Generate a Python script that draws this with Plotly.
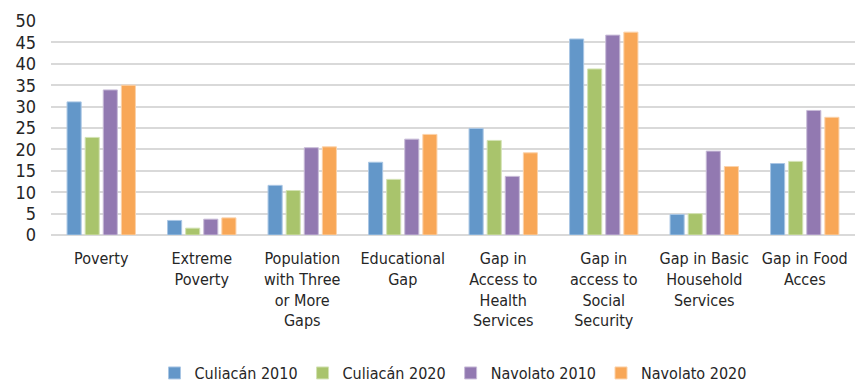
import plotly.graph_objects as go

categories = ["Poverty", "Extreme<br>Poverty", "Population<br>with Three<br>or More<br>Gaps",
              "Educational<br>Gap", "Gap in<br>Access to<br>Health<br>Services",
              "Gap in<br>access to<br>Social<br>Security", "Gap in Basic<br>Household<br>Services",
              "Gap in Food<br>Acces"]
culiacan_2010 = [31.1, 3.4, 11.6, 17.0, 24.9, 45.8, 4.8, 16.7]
culiacan_2020 = [22.8, 1.6, 10.4, 13.0, 22.1, 38.8, 5.0, 17.2]
navolato_2010 = [33.9, 3.7, 20.4, 22.4, 13.7, 46.7, 19.6, 29.1]
navolato_2020 = [35.0, 4.0, 20.6, 23.5, 19.2, 47.4, 16.0, 27.5]
series_names = ["Culiacán 2010", "Culiacán 2020", "Navolato 2010", "Navolato 2020"]
y_ticks = [0, 5, 10, 15, 20, 25, 30, 35, 40, 45, 50]

colors = ["#6397C9", "#A9C46C", "#9279B1", "#F8A757"]
edges = ["#A9C6E4", "#D3E2B4", "#C8BCD8", "#FBD2AA"]

FONT = "DejaVu Sans Condensed, sans-serif"

fig = go.Figure()
for name, vals, c, e in zip(series_names, [culiacan_2010, culiacan_2020, navolato_2010, navolato_2020], colors, edges):
    fig.add_trace(go.Bar(x=categories, y=vals, name=name, marker=dict(color=c, line=dict(color=e, width=1))))

fig.update_layout(
    width=859, height=383,
    margin=dict(l=51, r=4, t=21, b=148),
    paper_bgcolor="white", plot_bgcolor="white",
    barmode="group", bargap=0.28, bargroupgap=0.22,
    font=dict(family=FONT, size=16, color="#262626"),
    showlegend=True,
    legend=dict(orientation="h", x=0.5, xanchor="center", yref="container", y=0.026, yanchor="middle",
                font=dict(size=16), traceorder="normal"),
    xaxis=dict(showgrid=False, tickangle=0, ticks="", showline=False, automargin=False,
               tickfont=dict(size=16), ticklabelstandoff=12),
    yaxis=dict(range=[0, 50], tickvals=y_ticks, showgrid=True, gridcolor="#D9D9D9", gridwidth=1.5,
               zeroline=True, zerolinecolor="#D9D9D9", zerolinewidth=1.5, automargin=False,
               tickfont=dict(size=18), ticks="", ticklabelstandoff=14),
)

fig.write_html("out.html")
